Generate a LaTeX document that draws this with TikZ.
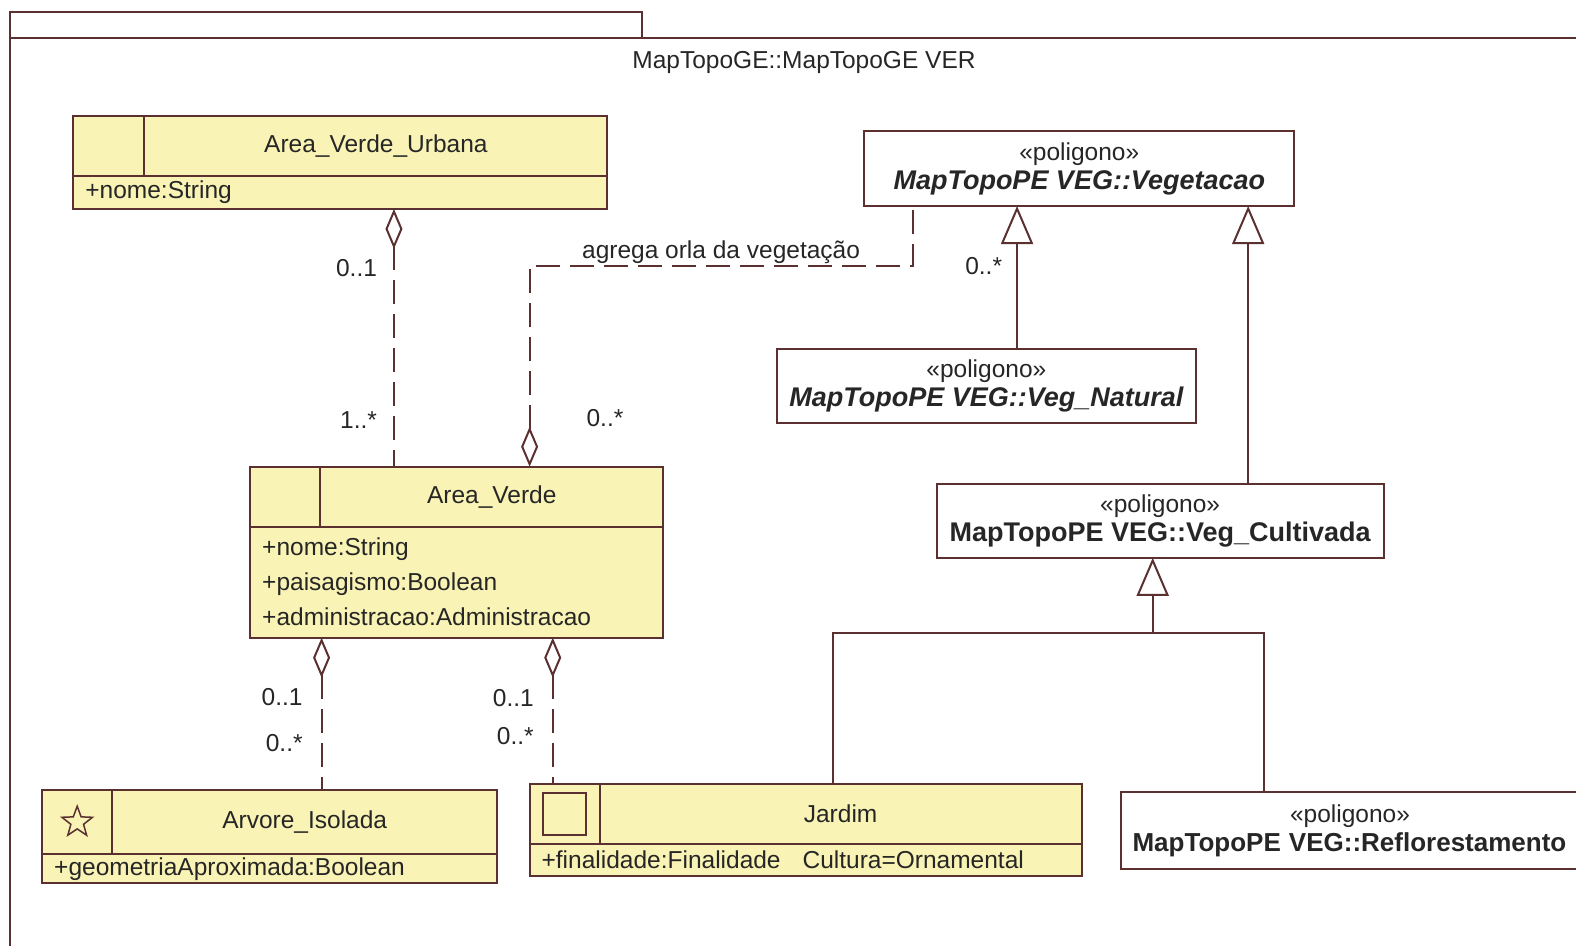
\documentclass[tikz,border=0pt]{standalone}
\usepackage{fontspec}
\setmainfont{Liberation Sans}
\usetikzlibrary{positioning, arrows.meta, shapes.geometric}
\definecolor{umlYellow}{HTML}{F9F3B5}
\definecolor{umlLine}{HTML}{5A3030}
\definecolor{umlText}{HTML}{262626}
\tikzset{
  font=\fontsize{24.5}{29}\selectfont,
  text=umlText,
  pkgbox/.style={draw=umlLine, line width=2pt, anchor=north west, inner sep=0pt, outer sep=0pt},
  iconcell/.style={draw=umlLine, fill=umlYellow, line width=2pt, anchor=north west, inner sep=0pt, outer sep=0pt},
  namecell/.style={draw=umlLine, fill=umlYellow, line width=2pt, inner sep=0pt, outer sep=0pt},
  attrcell/.style={draw=umlLine, fill=umlYellow, line width=2pt, anchor=north west, align=left, inner xsep=12pt, inner ysep=2pt, outer sep=0pt},
  stereobox/.style={draw=umlLine, fill=white, line width=2pt, anchor=north west, align=center, inner sep=3pt, outer sep=0pt},
  mult/.style={inner sep=0pt},
  assoc/.style={draw=umlLine, line width=2pt, dash pattern=on 24pt off 10pt},
  aggr/.style={assoc, {Diamond[open, length=40pt, width=17pt]}-},
  genline/.style={draw=umlLine, line width=2pt},
  gen/.style={genline, -{Triangle[open, length=38pt, width=32pt]}}
}

\begin{document}
\begin{tikzpicture}[x=1.005pt, y=-1.008pt]
  \useasboundingbox (0,0) rectangle (1568.2,938.5);
  % package
  \node[pkgbox, minimum width=1620pt, minimum height=960pt] (pkg) at (10,38) {};
  \node[pkgbox, anchor=south west, minimum width=632pt, minimum height=26pt] (pkgtab) at (pkg.north west) {};
  \node (pkgTitle) at (800,62) {MapTopoGE::MapTopoGE VER};

  % classes
  \node[iconcell, minimum width=71pt, minimum height=60pt] (avuIcon) at (73,115) {};
  \node[namecell, minimum width=463pt, minimum height=60pt, right=0pt of avuIcon] (avuName) {Area\_Verde\_Urbana};
  \node[attrcell, text width=510pt, minimum height=33pt] (avuAttr) at (avuIcon.south west) {+nome:String};

  \node[iconcell, minimum width=70pt, minimum height=60pt] (avIcon) at (249,463) {};
  \node[namecell, minimum width=343pt, minimum height=60pt, right=0pt of avIcon] (avName) {Area\_Verde};
  \node[attrcell, text width=389pt, minimum height=111pt, font=\fontsize{24.5}{35}\selectfont] (avAttr) at (avIcon.south west) {+nome:String\\+paisagismo:Boolean\\+administracao:Administracao};

  \node[iconcell, minimum width=70pt, minimum height=64pt] (arvIcon) at (42,784) {};
  \node[namecell, minimum width=385pt, minimum height=64pt, right=0pt of arvIcon] (arvName) {Arvore\_Isolada};
  \node[attrcell, text width=431pt, minimum height=29pt] (arvAttr) at (arvIcon.south west) {+geometriaAproximada:Boolean};
  \node[draw=umlLine, star, star points=5, star point ratio=2.4, minimum size=32pt, inner sep=0pt, line width=1.5pt] (arvStar) at (arvIcon.center) {};

  \node[iconcell, minimum width=70pt, minimum height=60pt] (jarIcon) at (527,778) {};
  \node[namecell, minimum width=482pt, minimum height=60pt, right=0pt of jarIcon] (jarName) {Jardim};
  \node[attrcell, text width=528pt, minimum height=32pt] (jarAttr) at (jarIcon.south west) {+finalidade:Finalidade\hspace{22pt}Cultura=Ornamental};
  \node[draw=umlLine, line width=2pt, minimum width=43pt, minimum height=42pt, inner sep=0pt] (jarBox) at (jarIcon.center) {};

  \node[stereobox, minimum width=430pt, minimum height=75pt] (veg) at (860,130) {<<poligono>>\\{\fontsize{27}{29}\selectfont\bfseries\itshape MapTopoPE VEG::Vegetacao}};
  \node[stereobox, minimum width=419pt, minimum height=74pt] (natBox) at (773,346) {<<poligono>>\\{\fontsize{27}{29}\selectfont\bfseries\itshape MapTopoPE VEG::Veg\_Natural}};
  \node[stereobox, minimum width=447pt, minimum height=74pt] (cultBox) at (932,480) {<<poligono>>\\{\fontsize{27}{29}\selectfont\bfseries MapTopoPE VEG::Veg\_Cultivada}};
  \node[stereobox, align=left, text width=466pt, inner xsep=12pt, minimum height=77pt] (refBox) at (1115,786) {\makebox[435pt][c]{<<poligono>>}\\{\fontsize{26}{29}\selectfont\bfseries MapTopoPE VEG::Reflorestamento}};

  % aggregations
  \coordinate (avuLink) at (392,0);
  \coordinate (orlaL) at (527,264);
  \coordinate (orlaR) at (908,264);
  \coordinate (arvLink) at (320,0);
  \coordinate (jarLink) at (550,0);
  \draw[aggr] (avuAttr.south -| avuLink) -- node[mult, left=16pt, pos=0.23] (mAvu) {0..1} node[mult, left=16pt, pos=0.82] (mAv) {1..*} (avName.north -| avuLink);
  \draw[aggr] (avName.north -| orlaL) -- node[mult, right=56pt, pos=0.24] (mOrla) {0..*} (orlaL) -- node[above=-2pt] (orlaLabel) {agrega orla da vegetação} (orlaR) -- (orlaR |- veg.south);
  \draw[aggr] (avAttr.south -| arvLink) -- node[mult, left=18pt, pos=0.39] (mAvArv) {0..1} node[mult, left=18pt, pos=0.69] (mArv) {0..*} (arvName.north -| arvLink);
  \draw[aggr] (avAttr.south -| jarLink) -- node[mult, left=18pt, pos=0.41] (mAvJar) {0..1} node[mult, left=18pt, pos=0.67] (mJar) {0..*} (jarIcon.north -| jarLink);

  % generalizations
  \coordinate (natLink) at (1012,0);
  \coordinate (cultLink) at (1242,0);
  \coordinate (cultJoin) at (1147,628);
  \coordinate (jarJoin) at (829,628);
  \coordinate (refJoin) at (1258,628);
  \draw[gen] (natBox.north -| natLink) -- node[mult, left=14pt, pos=0.58] (mNat) {0..*} (veg.south -| natLink);
  \draw[gen] (cultBox.north -| cultLink) -- (veg.south -| cultLink);
  \draw[gen] (cultJoin) -- (cultJoin |- cultBox.south);
  \draw[genline] (jarName.north -| jarJoin) -- (jarJoin) -- (refJoin) -- (refBox.north -| refJoin);
\end{tikzpicture}
\end{document}
